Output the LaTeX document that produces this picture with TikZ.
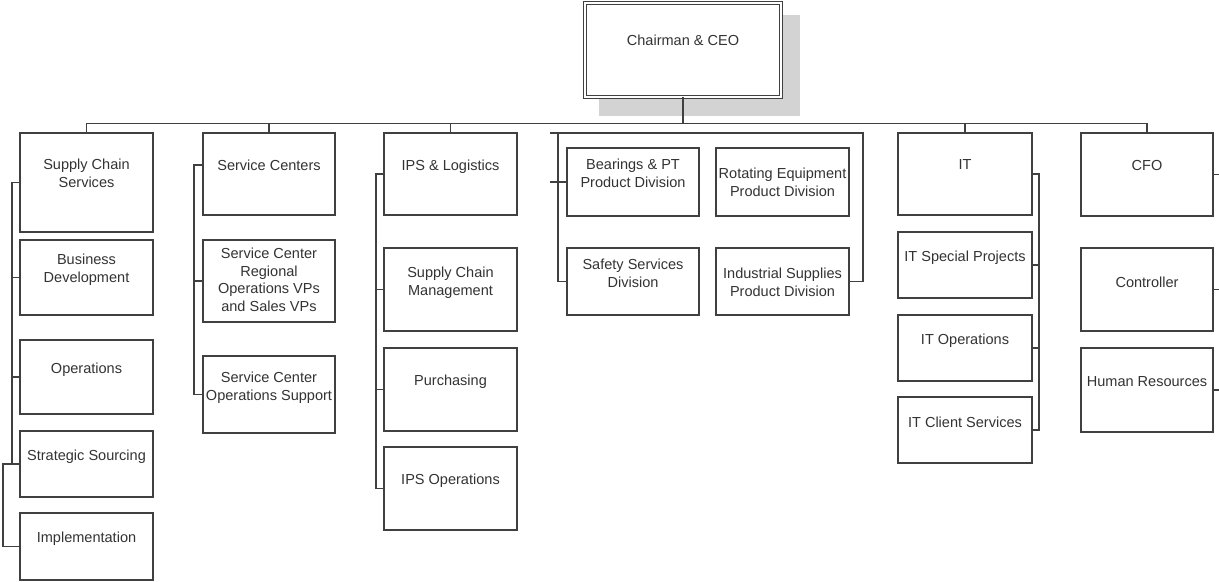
\documentclass[tikz,border=0pt]{standalone}
\usepackage{fontspec}
\setmainfont{Liberation Sans}
\usetikzlibrary{fit}
\definecolor{linec}{HTML}{404040}
\definecolor{textc}{HTML}{333333}
\definecolor{shadowc}{HTML}{D3D3D3}
\tikzset{
  orgbox/.style={draw=linec, line width=0.9pt, fill=white, inner sep=0pt},
  orgtext/.style={anchor=north, inner sep=0pt, align=center, text=textc,
    font=\fontsize{10.9}{13.2}\selectfont},
  conn/.style={draw=linec, line width=0.9pt},
  ceobox/.style={draw=linec, line width=0.75pt, double=white, double distance=1.6pt, fill=white, inner sep=0pt},
  shadowbox/.style={fill=shadowc, draw=none}
}
\newcommand\obox[7]{%
  \node[orgbox, fit={(#2,#3) (#4,#5)}] (#1) {};
  \node[orgtext] (#1-t) at ({(#2+#4)/2},{#6-5.3}) {#7};
}
\begin{document}
\begin{tikzpicture}[x=0.75pt,y=-0.75pt]
\useasboundingbox (0,0) rectangle (1219,581);
\clip (0,0) rectangle (1219,581);

% CEO
\fill[shadowbox] (599,15) rectangle (800,116);
\node[ceobox, fit={(585,3) (781,97)}] (ceo) {};
\node[orgtext] (ceo-t) at (683,34.7) {Chairman \& CEO};

% bus
\coordinate (busL) at (86.5,123.5);
\coordinate (busR) at (1147,123.5);
\draw[conn] (busL) -- (busR);
\draw[conn] (ceo.south) -- (ceo.south |- busL);

% Column 1
\obox{scs}{20}{133}{153}{232}{164}{Supply Chain\\Services}
\obox{bd}{20}{240}{153}{315}{259}{Business\\Development}
\obox{ops}{20}{340}{153}{414}{368}{Operations}
\obox{ss}{20}{431}{153}{497}{455}{Strategic Sourcing}
\obox{impl}{20}{513}{153}{580}{537}{Implementation}

% Column 2
\obox{sc}{203}{133}{335}{215}{165}{Service Centers}
\obox{scr}{203}{240}{335}{322}{253}{Service Center\\Regional\\Operations VPs\\and Sales VPs}
\obox{scos}{203}{356}{335}{433}{377}{Service Center\\Operations Support}

% Column 3
\obox{ips}{384}{133}{517}{215}{165}{IPS \& Logistics}
\obox{scm}{384}{248}{517}{331}{272}{Supply Chain\\Management}
\obox{pur}{384}{348}{517}{431}{380}{Purchasing}
\obox{ipso}{384}{447}{517}{530}{479}{IPS Operations}

% Middle group
\obox{brg}{567}{148}{699}{216}{164}{Bearings \& PT\\Product Division}
\obox{rot}{716}{148}{849}{216}{173}{Rotating Equipment\\Product Division}
\obox{saf}{567}{248}{699}{315}{264}{Safety Services\\Division}
\obox{ind}{716}{248}{849}{315}{273}{Industrial Supplies\\Product Division}

% IT
\obox{it}{898}{133}{1032}{215}{165}{IT}
\obox{itsp}{898}{232}{1032}{298}{256}{IT Special Projects}
\obox{itop}{898}{315}{1032}{381}{339}{IT Operations}
\obox{itcs}{898}{397}{1032}{463}{422}{IT Client Services}

% CFO
\obox{cfo}{1081}{133}{1213}{216}{165}{CFO}
\obox{ctl}{1081}{248}{1213}{331}{282}{Controller}
\obox{hr}{1081}{348}{1213}{432}{382}{Human Resources}

% top connectors
\draw[conn] (scs.north) -- (scs.north |- busL);
\draw[conn] (sc.north) -- (sc.north |- busL);
\draw[conn] (ips.north) -- (ips.north |- busL);
\draw[conn] (it.north) -- (it.north |- busL);
\draw[conn] (cfo.north) -- (cfo.north |- busL);

% Column 1 brackets
\coordinate (c1) at (12,0);
\coordinate (c1b) at (3,0);
\draw[conn] (scs.west) -- (scs.west -| c1) -- (ss.west -| c1) -- (ss.west);
\draw[conn] (bd.west) -- (bd.west -| c1);
\draw[conn] (ops.west) -- (ops.west -| c1);
\draw[conn] (ss.west) -- (ss.west -| c1b) -- (impl.west -| c1b) -- (impl.west);

% Column 2 bracket
\coordinate (c2) at (194,0);
\coordinate (sctick) at (203,165);
\draw[conn] (sctick) -- (sctick -| c2) -- (scos.west -| c2) -- (scos.west);
\draw[conn] (scr.west) -- (scr.west -| c2);

% Column 3 bracket
\coordinate (c3) at (376,0);
\draw[conn] (ips.west) -- (ips.west -| c3) -- (ipso.west -| c3) -- (ipso.west);
\draw[conn] (scm.west) -- (scm.west -| c3);
\draw[conn] (pur.west) -- (pur.west -| c3);

% Middle group frame
\coordinate (gL) at (550,133);
\coordinate (gV) at (558,133);
\coordinate (gR) at (863,133);
\draw[conn] (gL) -- (gR) -- (gR |- ind.east) -- (ind.east);
\draw[conn] (gV) -- (gV |- saf.west) -- (saf.west);
\draw[conn] (brg.west -| gL) -- (brg.west);

% IT bracket
\coordinate (c5) at (1039,0);
\draw[conn] (it.east) -- (it.east -| c5) -- (itcs.east -| c5) -- (itcs.east);
\draw[conn] (itsp.east) -- (itsp.east -| c5);
\draw[conn] (itop.east) -- (itop.east -| c5);

% CFO bracket (off the right edge)
\coordinate (c6) at (1222,0);
\draw[conn] (cfo.east) -- (cfo.east -| c6) -- (hr.east -| c6) -- (hr.east);
\draw[conn] (ctl.east) -- (ctl.east -| c6);
\end{tikzpicture}
\end{document}
